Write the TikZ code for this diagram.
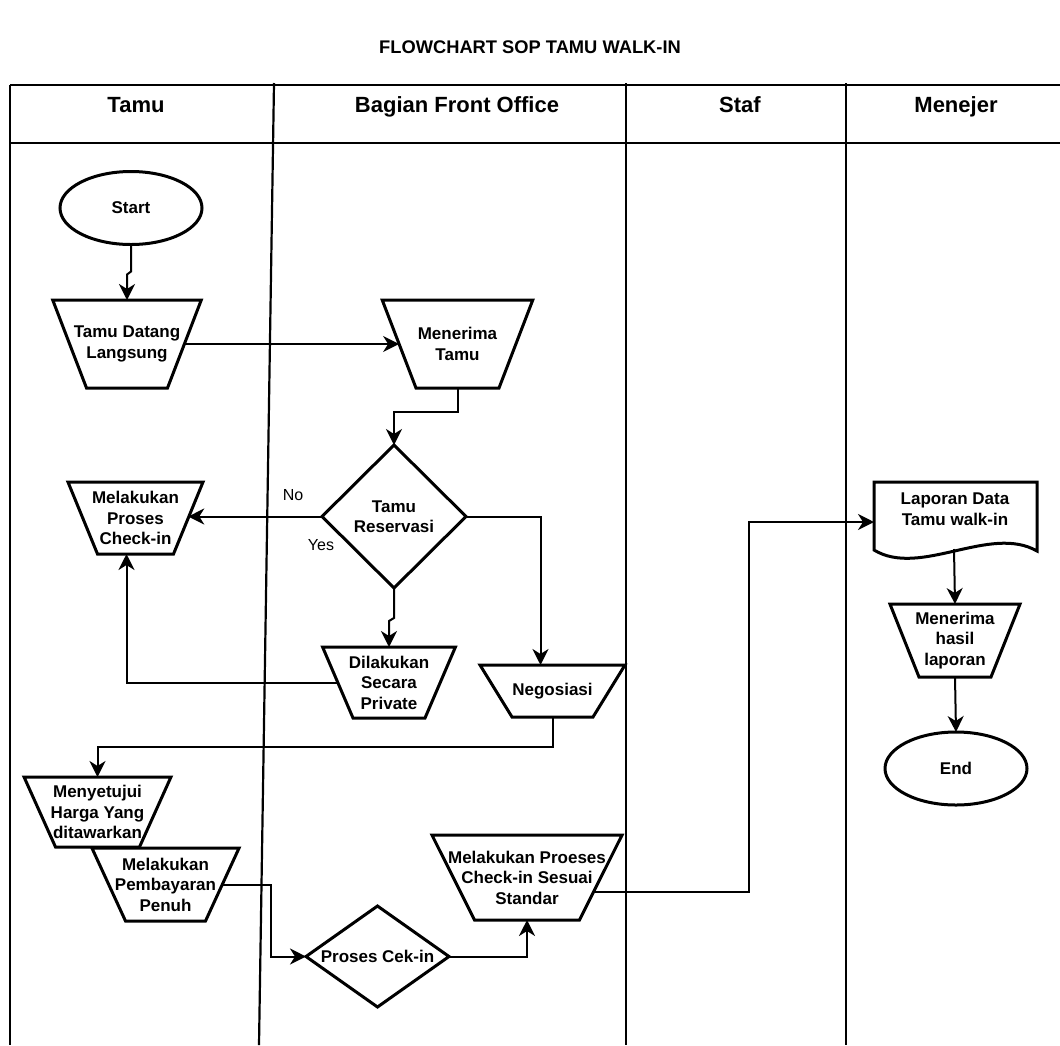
\documentclass[tikz,border=0pt]{standalone}
\usepackage{fontspec}
\setmainfont{Liberation Sans}
\usetikzlibrary{shapes.geometric,arrows.meta,calc}

\begin{document}
\begin{tikzpicture}[x=1pt,y=-1pt,
  lane/.style={line width=2.2pt},
  hline/.style={line width=2.6pt},
  shp/.style={draw, line width=3pt, inner sep=0pt, outer sep=0pt},
  % manual operation: narrow side width, height, side angle
  manual/.style n args={3}{draw, line width=3pt, outer sep=0pt,
    trapezium, shape border rotate=180,
    inner xsep=#1/2, inner ysep=#2/2,
    trapezium left angle=#3, trapezium right angle=#3},
  decision/.style 2 args={shp, diamond, minimum width=#1, minimum height=#2},
  terminal/.style={shp, ellipse, minimum width=142, minimum height=73},
  txt/.style={font=\fontsize{17}{20.5}\selectfont\bfseries, align=center, inner sep=0pt},
  head/.style={font=\fontsize{22}{26}\selectfont\bfseries, anchor=base, inner sep=0pt},
  lbl/.style={font=\fontsize{16}{19}\selectfont, inner sep=0pt},
  arr/.style={line width=2pt, -{Stealth[length=16pt,width=16pt,inset=5pt]}}
]
% canvas
\path[fill=white, use as bounding box] (0,0) rectangle (1060,1045);

% title
\node[font=\fontsize{18.3}{22}\selectfont\bfseries, inner sep=0pt] (title) at (530,47) {FLOWCHART SOP TAMU WALK-IN};

% swimlane grid
\draw[hline] (10,85) -- (1060,85);
\draw[hline] (10,143) -- (1060,143);
\draw[lane] (10,85) -- (10,1045);
\draw[lane] (274,83) -- (259,1045);
\draw[lane] (626,83) -- (626,1045);
\draw[lane] (846,83) -- (846,1045);

% lane headers
\node[head] (h-tamu) at (136,112) {Tamu};
\node[head] (h-fo) at (457,112) {Bagian Front Office};
\node[head] (h-staf) at (740,112) {Staf};
\node[head] (h-men) at (956,112) {Menejer};

% terminals
\node[terminal] (start) at (131,208) {};
\node[txt] (start-t) at (start) {Start};
\node[terminal] (end) at (956,768.5) {};
\node[txt] (end-t) at (end) {End};

% manual operations
\node[manual={81}{88}{69}] (tdl) at (127,344) {};
\node[txt] (tdl-t) at (tdl) {Tamu Datang\\Langsung};
\node[manual={83}{88}{69}] (mt) at (457.5,344) {};
\node[txt] (mt-t) at (mt) {Menerima\\Tamu};
\node[manual={76}{72}{67.7}] (mpc) at (135.5,518) {};
\node[txt] (mpc-t) at (mpc) {Melakukan\\Proses\\Check-in};
\node[manual={72}{71}{66.8}] (dsp) at (389,682.5) {};
\node[txt] (dsp-t) at (dsp) {Dilakukan\\Secara\\Private};
\node[manual={81}{52}{58.4}] (neg) at (552.5,691) {};
\node[txt] (neg-t) at (neg) {Negosiasi};
\node[manual={84}{70}{65.8}] (mhy) at (97.5,812) {};
\node[txt] (mhy-t) at (mhy) {Menyetujui\\Harga Yang\\ditawarkan};
\node[manual={80}{73}{65.3}] (mpp) at (165.5,884.5) {};
\node[txt] (mpp-t) at (mpp) {Melakukan\\Pembayaran\\Penuh};
\node[manual={105}{85}{63.4}] (mps) at (527,877.5) {};
\node[txt] (mps-t) at (mps) {Melakukan Proeses\\Check-in Sesuai\\Standar};
\node[manual={72}{73}{68.3}] (mhl) at (955,640.5) {};
\node[txt] (mhl-t) at (mhl) {Menerima\\hasil\\laporan};

% decisions
\node[decision={144}{143}] (tr) at (394,516.5) {};
\node[txt] (tr-t) at (tr) {Tamu\\Reservasi};
\node[decision={143}{101}] (pce) at (377.5,956.5) {};
\node[txt] (pce-t) at (pce) {Proses Cek-in};

% document
\draw[line width=3pt] (874,482) -- (1037,482) -- (1037,551)
  .. controls (990,524) and (920,578) .. (874,550) -- cycle;
\node[txt] (lap) at (955,509) {Laporan Data\\Tamu walk-in};
\coordinate (lap-in) at (874,522);
\coordinate (lap-out) at (954,549);

% branch labels
\node[lbl] (no) at (293,495) {No};
\node[lbl] (yes) at (321,545) {Yes};

% connectors
\draw[arr] (start.south) -- ++(0,27) -- ++(-4,3) -- (tdl.north);
\draw[arr] (tdl.east) -- (mt.west);
\draw[arr] (mt.south) -- ++(0,24) -| (tr.north);
\draw[arr] (tr.west) -- (tr.west -| mpc.east);
\draw[arr] (tr.south) -- ++(0,30) -- ++(-5,3) -- (dsp.north);
\draw[arr] (dsp.west) -| ([xshift=-9pt]mpc.south);
\draw[arr] (tr.east) -| ([xshift=-12pt]neg.north);
\draw[arr] (neg.south) -- ++(0,30) -| (mhy.north);
\draw[arr] (mpp.east) -- ++(49,0) |- (pce.west);
\draw[arr] (pce.east) -| (mps.south);
\draw[arr] (mps.-12) -| ([xshift=-125pt]lap-in) -- (lap-in);
\draw[arr] (lap-out) -- (mhl.north);
\draw[arr] (mhl.south) -- (end.north);
\end{tikzpicture}
\end{document}
